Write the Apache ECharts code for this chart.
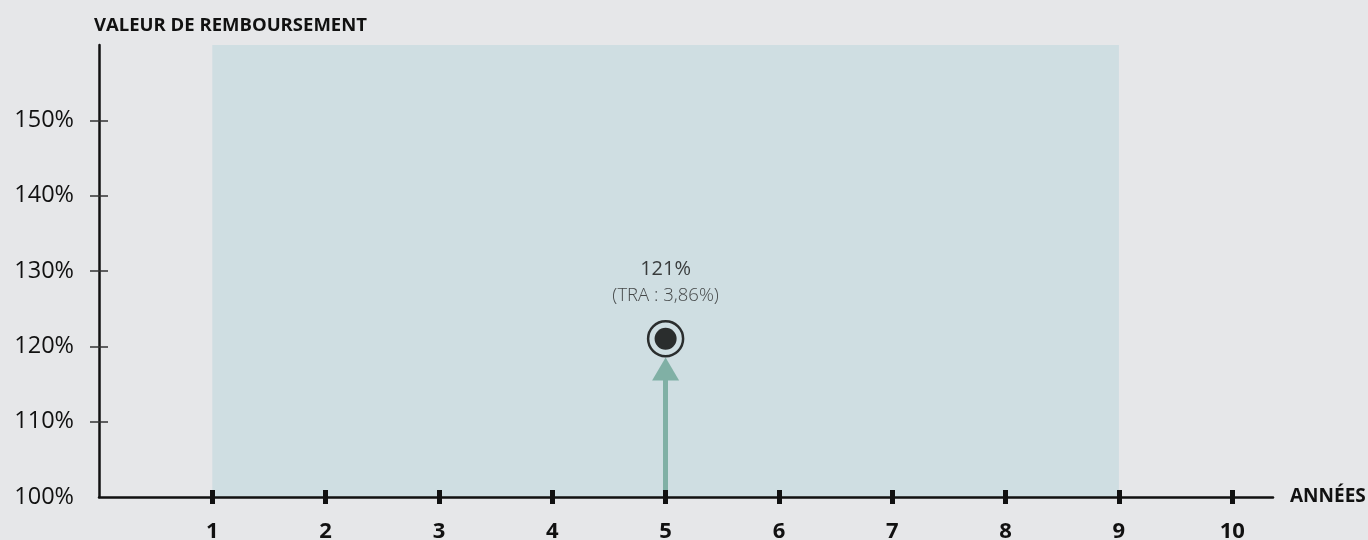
<!DOCTYPE html>
<html>
<head>
<meta charset="utf-8">
<script src="https://cdn.jsdelivr.net/npm/echarts@6/dist/echarts.min.js"></script>
<style>
html,body{margin:0;padding:0;background:#e6e7e9;}
#c{width:1368px;height:540px;}
</style>
</head>
<body>
<div id="c"></div>
<script>
// ---- data ----
const years = [1, 2, 3, 4, 5, 6, 7, 8, 9, 10];
const yTicks = [100, 110, 120, 130, 140, 150];
const periodStart = 1;
const periodEnd = 9;
const pointYear = 5;
const pointValue = 121;
const arrowTop = 117;
const pointLabel = '121%';
const traLabel = '(TRA : 3,86%)';
const yTitle = 'VALEUR DE REMBOURSEMENT';
const xTitle = 'ANNÉES';

const FONT = '"Open Sans", sans-serif';
const chart = echarts.init(document.getElementById('c'));

const xBase = {
  type: 'value', min: 0, max: 10.36, interval: 1,
  position: 'bottom', z: 10
};
const yBase = {
  type: 'value', min: 100, max: 160, interval: 10,
  position: 'left', z: 10, splitLine: { show: false }
};

chart.setOption({
  backgroundColor: '#e6e7e9',
  animation: false,
  title: {
    text: yTitle, left: 89, top: 11,
    textStyle: { fontFamily: FONT, fontSize: 18.5, fontWeight: 'bold', color: '#111' }
  },
  grid: { left: 99, right: 95, top: 45, bottom: 43, containLabel: false, outerBoundsMode: 'none' },
  xAxis: [
    Object.assign({}, xBase, {
      name: xTitle, nameLocation: 'end', nameGap: 17,
      nameTextStyle: { fontFamily: FONT, fontSize: 19, fontWeight: 'bold', color: '#111', verticalAlign: 'middle' },
      axisLine: { show: true, lineStyle: { color: '#111', width: 2.5 } },
      axisTick: { show: true, inside: false, length: 7, lineStyle: { color: '#111', width: 5 }, customValues: years },
      axisLabel: { show: true, margin: 24, fontFamily: FONT, fontSize: 22, fontWeight: 'bold', color: '#111', customValues: years },
      splitLine: { show: false }
    }),
    Object.assign({}, xBase, {
      axisLine: { show: false },
      axisTick: { show: true, inside: true, length: 7, lineStyle: { color: '#111', width: 5 }, customValues: years },
      axisLabel: { show: false },
      splitLine: { show: false }
    })
  ],
  yAxis: [
    Object.assign({}, yBase, {
      axisLine: { show: true, lineStyle: { color: '#111', width: 2.5 } },
      axisTick: { show: true, inside: false, length: 9, lineStyle: { color: '#333', width: 1.5 }, customValues: yTicks.slice(1) },
      axisLabel: { show: true, margin: 25, fontFamily: FONT, fontSize: 23.5, color: '#111',
        formatter: v => v + '%', customValues: yTicks }
    }),
    Object.assign({}, yBase, {
      axisLine: { show: false },
      axisTick: { show: true, inside: true, length: 9, lineStyle: { color: '#333', width: 1.5 }, customValues: yTicks.slice(1) },
      axisLabel: { show: false }
    })
  ],
  series: [
    {
      type: 'scatter', xAxisIndex: 0, yAxisIndex: 0, z: 1,
      data: [],
      markArea: {
        silent: true,
        itemStyle: { color: '#cfdee2' },
        data: [[{ xAxis: periodStart, yAxis: 100 }, { xAxis: periodEnd, yAxis: 160 }]]
      },
      markLine: {
        silent: true,
        symbol: ['none', 'triangle'],
        symbolSize: [27, 23],
        label: { show: false },
        lineStyle: { color: '#80b0a5', width: 5, type: 'solid' },
        data: [[{ coord: [pointYear, 100] }, { coord: [pointYear, arrowTop] }]]
      }
    },
    {
      type: 'scatter', xAxisIndex: 0, yAxisIndex: 0, z: 5,
      symbol: 'circle', symbolSize: 35,
      itemStyle: { color: 'rgba(0,0,0,0)', borderColor: '#000', borderWidth: 2.5 },
      data: [[pointYear, pointValue]],
      label: {
        show: true, position: 'top', distance: 12,
        formatter: '{a|' + pointLabel + '}\n{b|' + traLabel + '}',
        rich: {
          a: { fontFamily: FONT, fontSize: 20, color: '#111', lineHeight: 27, align: 'center' },
          b: { fontFamily: FONT, fontSize: 18.5, fontWeight: 300, color: '#222', lineHeight: 25, align: 'center' }
        }
      }
    },
    {
      type: 'scatter', xAxisIndex: 0, yAxisIndex: 0, z: 6,
      symbol: 'circle', symbolSize: 22,
      itemStyle: { color: '#000' },
      data: [[pointYear, pointValue]]
    }
  ]
});
</script>
</body>
</html>
